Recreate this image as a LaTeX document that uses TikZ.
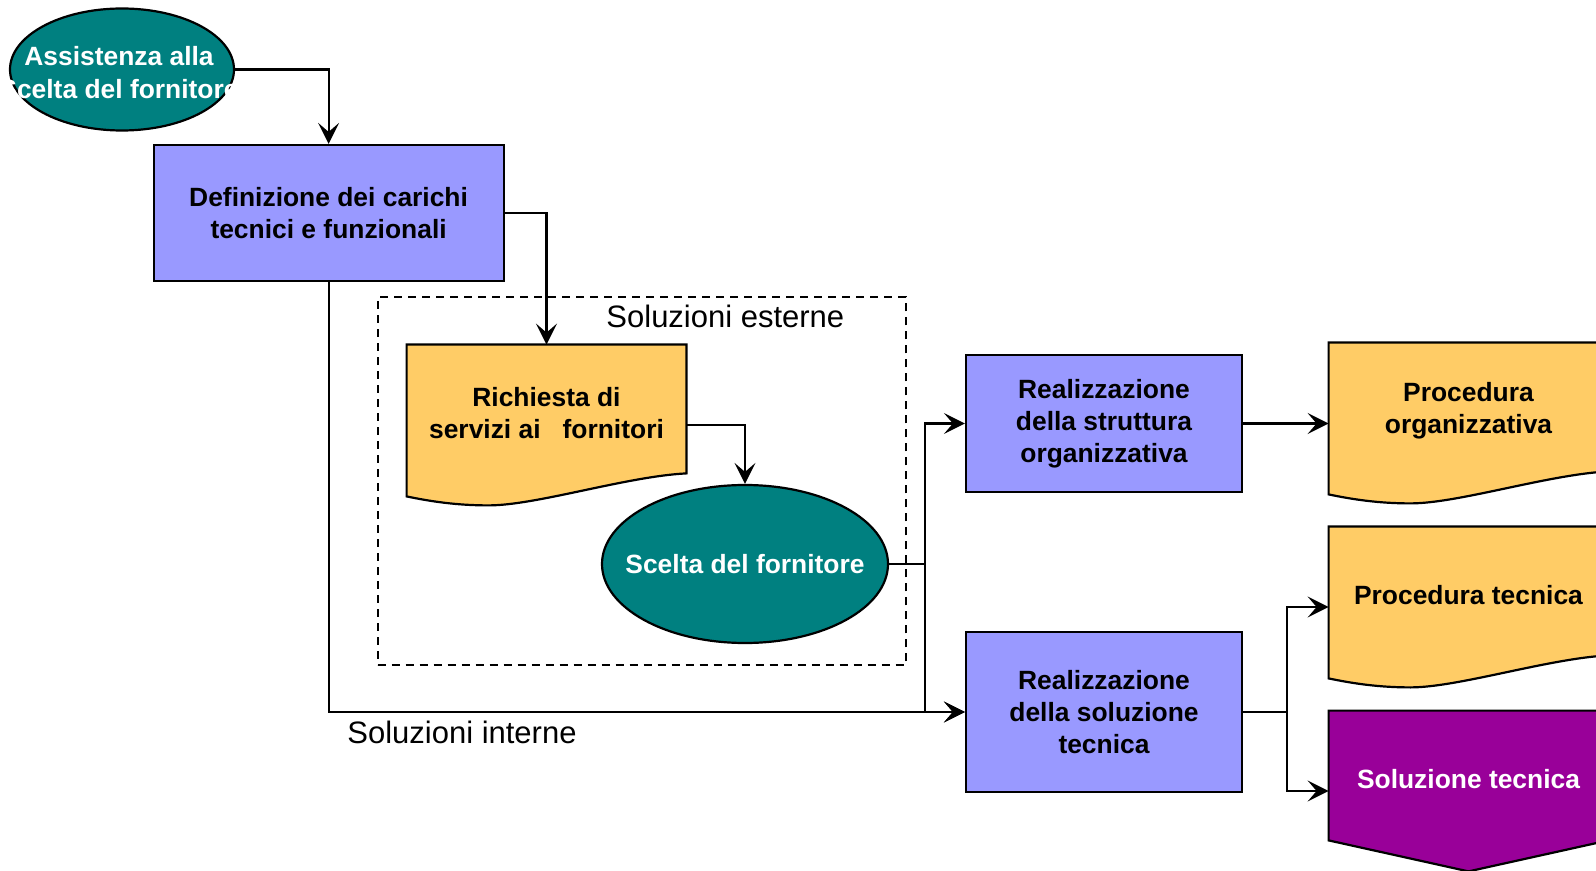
\documentclass[tikz,border=0pt]{standalone}
\usepackage{fontspec}
\setmainfont{Liberation Sans}
\usepackage{tikz}
\usetikzlibrary{arrows.meta, shapes, backgrounds, calc, positioning}
\definecolor{tealgreen}{RGB}{0, 128, 128}
\definecolor{boxblue}{RGB}{153, 153, 255}
\definecolor{docyellow}{RGB}{255, 204, 102}
\definecolor{offpurple}{RGB}{153, 0, 153}
\newcommand{\boxfont}{\fontsize{13.2pt}{16.1pt}\selectfont\bfseries}
\newcommand{\labelfont}{\fontsize{15.5pt}{18pt}\selectfont}
\tikzset{
    boxnode/.style = {draw, rectangle, fill=boxblue, line width=1.1pt, inner sep=0em, 
      minimum width=138pt, font=\boxfont, node distance=0em},
    ovalnode/.style = {draw, ellipse, fill=tealgreen, line width=1.1pt, inner sep=0em, node distance=0em},
    ovaltext/.style = {text=white, inner sep=0em, font=\boxfont},
    docnode/.style = {rectangle, inner sep=0em, minimum width=139.5pt, minimum height=68pt, 
      font=\boxfont, node distance=0em},
    groupnode/.style = {draw, rectangle, dash pattern=on 4pt off 3pt, line width=0.9pt, node distance=0em},
    textnode/.style  = {draw=none, fill=none, rectangle, inner sep=0em, font=\labelfont},
    connect/.style = {black, line width=1.1pt, ->},
    every text node part/.style={align=center}
}
% paper sheet with a torn bottom edge
\newcommand{\docpaper}[2]{%
  \filldraw[fill=#2, line width=1.1pt] (#1.north west) -- (#1.north east) -- ([yshift=4pt]#1.south east)
    .. controls ([xshift=40pt, yshift=2.5pt]#1.south) and ([xshift=-5pt, yshift=-12pt]#1.south) .. ([xshift=-29pt, yshift=-12pt]#1.south)
    .. controls ([xshift=-45pt, yshift=-12pt]#1.south) and ([xshift=-58pt, yshift=-10pt]#1.south) .. ([yshift=-7.5pt]#1.south west) -- cycle;}
% off-page pointer
\newcommand{\offpagebox}[2]{%
  \filldraw[fill=#2, line width=1.1pt] (#1.north west) -- (#1.north east) -- ([yshift=3.5pt]#1.south east)
    -- ([yshift=-12pt]#1.south) -- ([yshift=3.5pt]#1.south west) -- cycle;}

\begin{document}
\begin{tikzpicture}[>={Stealth[length=10.5pt, width=10.5pt, inset=4.5pt]}]
\useasboundingbox (0,0) rectangle (798pt,-435.5pt);

\node [ovalnode, minimum width=112pt, minimum height=61pt, name=assist, 
  label={[ovaltext, xshift=-1.5pt, yshift=-1.5pt]center:{Assistenza alla\\Scelta del fornitore}}] at (61pt,-34.75pt) {}; 
\node [boxnode, minimum width=175pt, minimum height=68pt, name=defin, below of=assist, xshift=103.3pt, yshift=-71.75pt] {Definizione dei carichi\\tecnici e funzionali}; 

\node [docnode, name=richiesta, below of=defin, xshift=108.95pt, yshift=-100pt] {Richiesta di\\servizi ai\ \ \ fornitori}; 
\node [ovalnode, minimum width=143pt, minimum height=79pt, name=scelta, below of=richiesta, xshift=99.25pt, yshift=-75.5pt, 
  label={[ovaltext]center:Scelta del fornitore}] {}; 
\node [groupnode, minimum width=264.15pt, minimum height=183.85pt, name=esterne, below of=defin, xshift=156.6pt, yshift=-134.1pt] {}; 
\node [textnode, anchor=base west, name=estlabel] at ([xshift=114.65pt, yshift=-15.35pt]esterne.north west) {Soluzioni esterne}; 
\node [textnode, anchor=base west, name=intlabel] at (173.5pt,-371.5pt) {Soluzioni interne}; 

\node [boxnode, minimum height=68.5pt, name=strutt, right of=richiesta, xshift=278.75pt, yshift=-5.25pt] {Realizzazione\\della struttura\\organizzativa}; 
\node [boxnode, minimum height=80pt, name=soltec, below of=strutt, yshift=-144.25pt] {Realizzazione\\della soluzione\\tecnica}; 

\node [docnode, name=procorg, right of=strutt, xshift=182.25pt, yshift=6.25pt] {Procedura\\organizzativa}; 
\node [docnode, name=proctec, below of=procorg, yshift=-92pt] {Procedura tecnica}; 
\node [docnode, text=white, name=soltecn, below of=proctec, yshift=-92pt] {Soluzione tecnica}; 

\begin{scope}[on background layer]
\docpaper{richiesta}{docyellow}
\docpaper{procorg}{docyellow}
\docpaper{proctec}{docyellow}
\offpagebox{soltecn}{offpurple}
\end{scope}

\draw [connect] (assist.east) -| (defin.north); 
\draw [connect] (defin.east) -| (richiesta.north); 
\draw [connect] (defin.south) |- (soltec.west); 
\draw [connect] ([yshift=-6pt]richiesta.east) -| (scelta.north); 

\coordinate (split1) at ($(scelta.east -| strutt.west)+(-20.15pt,0)$); 
\draw [line width=1.1pt] (scelta.east) -- (split1); 
\draw [connect] (split1) |- (strutt.west); 
\draw [connect] (split1) |- (soltec.west); 
\draw [connect] (strutt.east) -- (strutt.east -| procorg.west); 

\coordinate (split2) at ($(soltec.east)+(21.85pt,0)$); 
\draw [line width=1.1pt] (soltec.east) -- (split2); 
\draw [connect] (split2) |- ([yshift=-6pt]proctec.west); 
\draw [connect] (split2) |- ([yshift=-6pt]soltecn.west); 
\end{tikzpicture}
\end{document}
